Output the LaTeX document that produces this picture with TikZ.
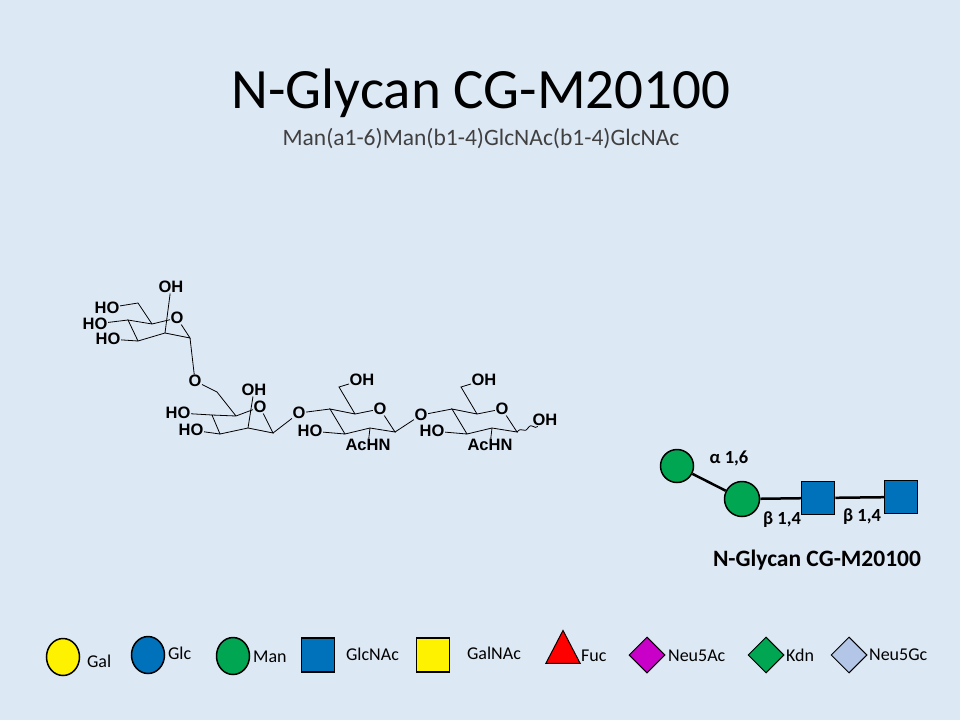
\documentclass[tikz,border=0pt]{standalone}
\usepackage{fontspec}
\setmainfont{Carlito}
\newfontfamily\chemfont{Liberation Sans}
\usetikzlibrary{shapes.geometric}
\definecolor{slide}{RGB}{221,232,245}
\definecolor{manG}{RGB}{0,166,81}
\definecolor{glcB}{RGB}{0,114,188}
\definecolor{neuA}{RGB}{200,0,200}
\definecolor{neuG}{RGB}{180,198,231}
\tikzset{every picture/.style={line width=0.75pt}}
\tikzset{
  atom/.style={inner sep=0.3pt,font=\chemfont\bfseries\fontsize{16.5}{16.5}\selectfont},
  bond/.style={line width=0.8pt},
  link/.style={line width=2.5pt},
  sym/.style={draw=black,line width=1.5pt},
  lnk/.style={inner sep=0.75pt,font=\bfseries\fontsize{18.5}{18.5}\selectfont},
  leg/.style={inner sep=0.75pt,anchor=west,font=\fontsize{18}{18}\selectfont}
}
\begin{document}
\begin{tikzpicture}[x=1pt,y=1pt,yscale=-1,xscale=1]
	\fill[slide] (0,0) rectangle (960,720);
	\useasboundingbox (0,0) rectangle (960,720);

	% Title
	\node (title) at (481,93) [inner sep=0.75pt,font=\fontsize{57}{57}\selectfont] {N-Glycan CG-M20100};
	\node (subtitle) at (481,139) [inner sep=0.75pt,font=\fontsize{23.5}{23.5}\selectfont,text=black!75] {Man(a1-6)Man(b1-4)GlcNAc(b1-4)GlcNAc};

	% Structure: terminal mannose
	\node[atom] (m1OH2) at (171,287) {OH};
	\node[atom] (m1HO6) at (107,308) {HO};
	\node[atom] (m1HO4) at (95,324) {HO};
	\node[atom] (m1HO3) at (108,339) {HO};
	\node[atom] (m1O) at (177,318) {O};
	\draw[bond] (m1HO6) -- (138,303) -- (152,324) -- (m1O) -- (190,338) -- (165,333) -- (138,341) -- (128,320) -- (152,324);
	\draw[bond] (m1HO4) -- (128,320);
	\draw[bond] (m1HO3) -- (138,341);
	\draw[bond] (m1OH2) -- (165,333);
	\node[atom] (o16) at (195,381) {O};
	\draw[bond] (190,338) -- (o16);

	% Structure: core mannose
	\node[atom] (m2OH2) at (254,390) {OH};
	\node[atom] (m2O) at (260,407) {O};
	\node[atom] (m2HO4) at (178,413) {HO};
	\node[atom] (m2HO3) at (191,430) {HO};
	\draw[bond] (o16) -- (217,392) -- (236,416) -- (m2O) -- (273,433) -- (248,428) -- (220,434) -- (212,415) -- (236,416);
	\draw[bond] (m2HO4) -- (212,415);
	\draw[bond] (m2HO3) -- (220,434);
	\draw[bond] (m2OH2) -- (248,428);
	\node[atom] (o14a) at (299,413) {O};
	\draw[bond] (273,433) -- (o14a);

	% Structure: GlcNAc units
	\foreach \dx/\nm in {0/g1,122/g2}{
	  \begin{scope}[xshift=\dx]
	    \node[atom] (\nm OH6) at (362,380) {OH};
	    \node[atom] (\nm O) at (380,409) {O};
	    \node[atom] (\nm HO3) at (310,431) {HO};
	    \node[atom] (\nm NHAc) at (368,445) {AcHN};
	    \draw[bond] (\nm OH6) -- (339,387) -- (355,414) -- (\nm O) -- (395,432) -- (370,428) -- (345,434) -- (330,409) -- (355,414);
	    \draw[bond] (\nm HO3) -- (345,434);
	    \draw[bond] (\nm NHAc) -- (370,428);
	  \end{scope}
	}
	\draw[bond] (o14a) -- (330,409);
	\node[atom] (o14b) at (421,415) {O};
	\draw[bond] (395,432) -- (o14b) -- (452,409);
	\node[atom] (redOH) at (545,420) {OH};
	\draw[bond] (517,432) .. controls (522,426) and (524,434) .. (528,428) .. controls (532,422) and (534,430) .. (redOH);

	% Glycan symbol
	\node[circle,sym,fill=manG,minimum size=33pt,inner sep=0pt] (man1) at (677,466) {};
	\node[circle,sym,fill=manG,minimum size=35pt,inner sep=0pt] (man2) at (742,499) {};
	\node[rectangle,sym,fill=glcB,minimum size=33pt,inner sep=0pt] (gn1) at (818,498) {};
	\node[rectangle,sym,fill=glcB,minimum size=33pt,inner sep=0pt] (gn2) at (901,497) {};
	\draw[link] (man1) -- (man2);
	\draw[link] (man2) -- (gn1);
	\draw[link] (gn1) -- (gn2);
	\node[lnk] (l16) at (729,458) {α 1,6};
	\node[lnk] (l14a) at (782,520) {β 1,4};
	\node[lnk] (l14b) at (862,517) {β 1,4};
	\node[inner sep=0.75pt,font=\bfseries\fontsize{23.5}{23.5}\selectfont] (gname) at (817,560) {N-Glycan CG-M20100};

	% Legend
	\node[ellipse,sym,fill=yellow,minimum width=33pt,minimum height=37pt,inner sep=0pt] (kGal) at (63,657) {};
	\node[leg] at (86,661) {Gal};
	\node[ellipse,sym,fill=glcB,minimum width=33pt,minimum height=37pt,inner sep=0pt] (kGlc) at (148,655) {};
	\node[leg] at (167,653) {Glc};
	\node[ellipse,sym,fill=manG,minimum width=33pt,minimum height=37pt,inner sep=0pt] (kMan) at (233,656) {};
	\node[leg] at (252,657) {Man};
	\node[rectangle,sym,fill=glcB,minimum width=33pt,minimum height=34pt,inner sep=0pt] (kGlcNAc) at (318,655) {};
	\node[leg] at (345,654) {GlcNAc};
	\node[rectangle,sym,fill=yellow,minimum width=33pt,minimum height=34pt,inner sep=0pt] (kGalNAc) at (433,655) {};
	\node[leg] at (466,653) {GalNAc};
	\node[isosceles triangle,isosceles triangle apex angle=55,shape border rotate=90,sym,line width=1pt,fill=red,minimum height=33pt,inner sep=0pt] (kFuc) at (563,653) {};
	\node[leg] at (580,656) {Fuc};
	\node[diamond,sym,line width=1pt,fill=neuA,minimum size=36pt,inner sep=0pt] (kNeuAc) at (647,655) {};
	\node[leg] at (667,656) {Neu5Ac};
	\node[diamond,sym,line width=1pt,fill=manG,minimum size=36pt,inner sep=0pt] (kKdn) at (766,655) {};
	\node[leg] at (785,655) {Kdn};
	\node[diamond,sym,line width=1pt,fill=neuG,minimum size=36pt,inner sep=0pt] (kNeuGc) at (849,655) {};
	\node[leg] at (868,655) {Neu5Gc};
\end{tikzpicture}
\end{document}
